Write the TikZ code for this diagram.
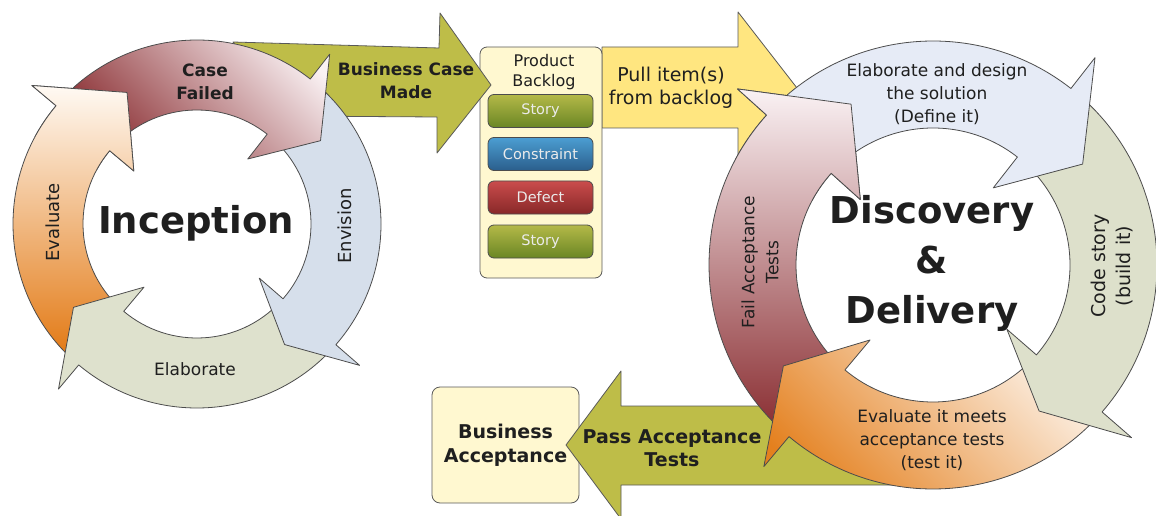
\documentclass[tikz,border=0pt]{standalone}
\usepackage{fontspec}
\setmainfont{DejaVu Sans}
\usetikzlibrary{calc}

\definecolor{bcgreen}{RGB}{190,189,72}
\definecolor{pullyellow}{RGB}{255,230,128}
\definecolor{boxcream}{RGB}{255,248,208}
\definecolor{ringblue}{RGB}{214,223,235}
\definecolor{ringsage}{RGB}{222,225,205}
\definecolor{ringblueB}{RGB}{230,235,246}
\definecolor{ringsageB}{RGB}{221,224,203}
\definecolor{redlo}{RGB}{138,46,50}
\definecolor{redhi}{RGB}{250,242,244}
\definecolor{orangelo}{RGB}{226,120,18}
\definecolor{orangehi}{RGB}{255,250,244}
\definecolor{orangeloB}{RGB}{228,128,30}
\definecolor{orangehiB}{RGB}{252,240,228}
\definecolor{storytop}{RGB}{180,185,72}
\definecolor{storybot}{RGB}{106,134,36}
\definecolor{constrtop}{RGB}{76,158,210}
\definecolor{constrbot}{RGB}{42,94,140}
\definecolor{defecttop}{RGB}{202,76,76}
\definecolor{defectbot}{RGB}{136,40,40}

% #1 style, #2 #3 centre, #4 inner radius, #5 outer radius, #6 tail angle, #7 head base angle, #8 tip angle
\newcommand\cyclearrow[8]{%
  \pgfmathsetmacro\rlo{#4-0.45*(#5-#4)}%
  \pgfmathsetmacro\rhi{#5+0.45*(#5-#4)}%
  \pgfmathsetmacro\rmid{(#4+#5)/2}%
  \path[#1] ($(#2,#3)+(#6:#5)$) arc[start angle=#6, end angle=#7, radius=#5]
    -- ($(#2,#3)+(#7:\rhi)$) -- ($(#2,#3)+(#8:\rmid)$)
    -- ($(#2,#3)+(#7:\rlo)$) -- ($(#2,#3)+(#7:#4)$)
    arc[start angle=#7, end angle=#6, radius=#4] -- cycle;}

\begin{document}
\begin{tikzpicture}[x=1pt, y=1pt,
  ring/.style={draw=black!70, line width=0.8pt, line join=round},
  block/.style={draw=black!65, line width=0.8pt, line join=round},
  lbl/.style={inner sep=0pt, align=center, text=black!88},
  ringtext/.style={lbl, font=\fontsize{17}{23}\selectfont},
  boldtext/.style={lbl, font=\bfseries\fontsize{17}{23}\selectfont},
  bigtext/.style={lbl, font=\bfseries\fontsize{37}{50}\selectfont},
  itembox/.style={draw=black!70, line width=0.8pt, rounded corners=6pt, minimum width=105pt,
    minimum height=33pt, inner sep=0pt, text=white!92!black, font=\fontsize{14.5}{17}\selectfont}]
\useasboundingbox (0,0) rectangle (1156,515);

% straight arrows and boxes
\path[block, fill=pullyellow] (602,468) -- (738,468) -- (738,503) -- (797,427) -- (738,351) -- (738,387) -- (602,387) -- cycle;
\node[block, fill=boxcream, rounded corners=7pt, minimum width=122pt, minimum height=231pt, inner sep=0pt] (backlog) at (541,352.5) {};
\node[ringtext, font=\fontsize{16}{20}\selectfont] (backlogtitle) at (544,443) {Product\\Backlog};
\node[itembox, top color=storytop, bottom color=storybot] (story1) at (540.5,404) {Story};
\node[itembox, top color=constrtop, bottom color=constrbot] (constraint) at (540.5,361) {Constraint};
\node[itembox, top color=defecttop, bottom color=defectbot] (defect) at (540.5,317.5) {Defect};
\node[itembox, top color=storytop, bottom color=storybot] (story2) at (540.5,273.5) {Story};
\path[block, fill=bcgreen] (233,473) -- (439,467) -- (440,502) -- (491,430) -- (437,362) -- (437,398) -- (290,399) -- cycle;
\node[block, fill=boxcream, rounded corners=8pt, minimum width=147pt, minimum height=116pt, lbl,
  font=\bfseries\fontsize{19}{24}\selectfont] (bizaccept) at (505.5,70) {Business\\Acceptance};
\path[block, fill=bcgreen] (930,109) -- (621,109) -- (621,144) -- (566,70) -- (621,-4) -- (621,30) -- (930,30) -- cycle;

% inception cycle
\cyclearrow{ring, top color=orangehi, bottom color=orangelo}{197}{291}{114}{184}{227}{140}{118}
\cyclearrow{ring, fill=ringsage}{197}{291}{114}{184}{-43}{-130}{-146}
\cyclearrow{ring, fill=ringblue}{197}{291}{114}{184}{49}{-41}{-54}
\cyclearrow{ring, top color=redhi, bottom color=redlo, shading angle=-45}{197}{291}{114}{184}{137}{52}{34}
\begin{scope}
\clip (197,291) -- ($(197,291)+(152:300)$) -- ($(197,291)+(100:300)$) -- cycle;
\cyclearrow{ring, top color=orangehi, bottom color=orangelo}{197}{291}{114}{184}{227}{140}{118}
\end{scope}

% discovery cycle
\cyclearrow{ring, top color=redhi, bottom color=redlo}{933}{250}{137}{224}{227}{138}{117}
\cyclearrow{ring, top color=orangehiB, bottom color=orangeloB, shading angle=-45}{933}{250}{137}{224}{-43}{-130}{-146}
\cyclearrow{ring, fill=ringsageB}{933}{250}{137}{224}{49}{-41}{-54}
\cyclearrow{ring, fill=ringblueB}{933}{250}{137}{224}{135}{52}{34}
\begin{scope}
\clip (933,250) -- ($(933,250)+(152:330)$) -- ($(933,250)+(100:330)$) -- cycle;
\cyclearrow{ring, top color=redhi, bottom color=redlo}{933}{250}{137}{224}{227}{138}{117}
\end{scope}

% labels
\node[boldtext] (bcmade) at (406,434) {Business Case\\Made};
\node[ringtext, font=\fontsize{19}{23}\selectfont] (pullitems) at (671,427) {Pull item(s)\\from backlog};
\node[boldtext, font=\bfseries\fontsize{19}{23}\selectfont] (passtests) at (672,67) {Pass Acceptance\\Tests};

\node[boldtext] (casefailed) at (205,433.5) {Case\\Failed};
\node[ringtext, rotate=90, font=\fontsize{18}{23}\selectfont] (envision) at (345,289) {Envision};
\node[ringtext] (elaborate) at (195,146) {Elaborate};
\node[ringtext, rotate=90, font=\fontsize{18}{23}\selectfont] (evaluate) at (53,292.5) {Evaluate};
\node[bigtext, anchor=base] (inception) at (196,282) {Inception};

\node[ringtext] (defineit) at (937,421) {Elaborate and design\\the solution\\(Define it)};
\node[ringtext, rotate=90, font=\fontsize{19}{25}\selectfont] (buildit) at (1112,249) {Code story\\(build it)};
\node[ringtext] (testit) at (932,75) {Evaluate it meets\\acceptance tests\\(test it)};
\node[ringtext, rotate=90, font=\fontsize{17}{24}\selectfont] (failtests) at (760,253) {Fail Acceptance\\Tests};
\node[bigtext] (discovery) at (932,251.5) {Discovery\\\&\\Delivery};
\end{tikzpicture}
\end{document}
